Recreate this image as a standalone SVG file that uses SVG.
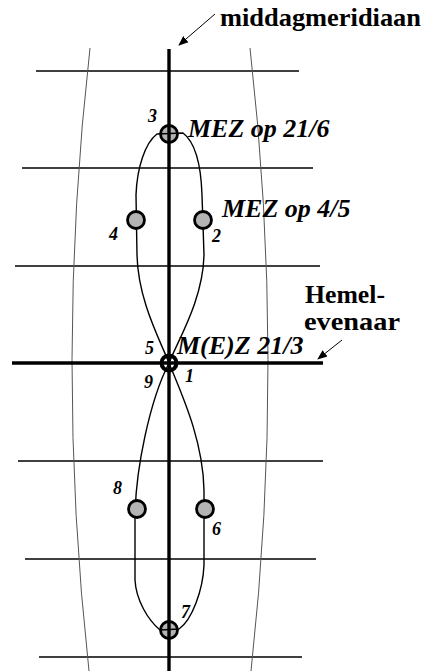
<svg xmlns="http://www.w3.org/2000/svg" width="426" height="671" viewBox="0 0 426 671">
<defs>
<marker id="ah" viewBox="0 0 10 10" refX="9" refY="5" markerWidth="10" markerHeight="10" markerUnits="userSpaceOnUse" orient="auto">
<path d="M0,1 L10,5 L0,9 Z" fill="#000"/>
</marker>
<style>
.grid{stroke:#000;stroke-width:1.4;fill:none}
.arc{stroke:#555;stroke-width:1;fill:none}
.thick{stroke:#000;stroke-width:3.4;fill:none}
.ana{stroke:#000;stroke-width:1.4;fill:none}
.dot{fill:#b4b4b4;stroke:#000;stroke-width:2.8}
.lbl{font-family:"Liberation Serif","Times New Roman",serif;font-weight:bold;font-style:italic;fill:#000}
.big{font-size:26px}
.num{font-size:18px}
.up{font-family:"Liberation Serif","Times New Roman",serif;font-weight:bold;font-size:26px;fill:#000}
.arr{stroke:#000;stroke-width:1;fill:none}
</style>
</defs>
<g id="grid">
<line class="grid" x1="36" y1="71" x2="299" y2="71"/>
<line class="grid" x1="22" y1="168" x2="313" y2="168"/>
<line class="grid" x1="15" y1="266" x2="320" y2="266"/>
<line class="grid" x1="18" y1="461" x2="323" y2="461"/>
<line class="grid" x1="25" y1="559" x2="316" y2="559"/>
<line class="grid" x1="39" y1="657" x2="302" y2="657"/>
<path class="arc" d="M90,48 Q54.5,359.5 89,671"/>
<path class="arc" d="M250,48 Q285.5,359.5 251,671"/>
</g>
<g id="p3"><circle class="dot" cx="169" cy="134" r="8.5"/></g>
<g id="p7"><circle class="dot" cx="169" cy="630" r="8.5"/></g>
<g id="connectors">
<path class="ana" d="M169,363 C160,340 138,300 137,255 L136,195 C137,168 145,143 157,134 L183,133 C195,142 201,165 202,195 L204,255 C203,300 178,340 169,363 Z"/>
<path class="ana" d="M169,363 C182,395 203,440 204,490 L204,565 C203,590 192,620 179,629 L160,630 C148,620 136,600 135,580 L135,520 C135,470 150,400 169,363 Z"/>
<line class="thick" x1="169" y1="49" x2="169" y2="671"/>
<line class="thick" x1="12" y1="363" x2="323" y2="363"/>
<line class="arr" x1="215" y1="14" x2="179" y2="45" marker-end="url(#ah)"/>
<line class="arr" x1="342" y1="340" x2="318" y2="359" marker-end="url(#ah)"/>
</g>
<g id="p4"><circle class="dot" cx="136" cy="220" r="8.5"/></g>
<g id="p2"><circle class="dot" cx="203" cy="220" r="8.5"/></g>
<g id="p8"><circle class="dot" cx="137" cy="509" r="8.5"/></g>
<g id="p6"><circle class="dot" cx="205" cy="509" r="8.5"/></g>
<g id="p1"><circle cx="169" cy="363" r="7.5" fill="none" stroke="#000" stroke-width="4"/></g>
<g id="labels">
<text class="up" x="220" y="26" textLength="201" lengthAdjust="spacingAndGlyphs">middagmeridiaan</text>
<text class="up" x="305" y="303" textLength="80" lengthAdjust="spacingAndGlyphs">Hemel-</text>
<text class="up" x="304" y="330" textLength="96" lengthAdjust="spacingAndGlyphs">evenaar</text>
<text class="lbl big" x="188" y="137">MEZ op 21/6</text>
<text class="lbl big" x="222" y="217">MEZ op 4/5</text>
<text class="lbl big" x="177" y="354">M(E)Z 21/3</text>
<text class="lbl num" x="148" y="122">3</text>
<text class="lbl num" x="109" y="240">4</text>
<text class="lbl num" x="212" y="242">2</text>
<text class="lbl num" x="145" y="354">5</text>
<text class="lbl num" x="144" y="388">9</text>
<text class="lbl num" x="185" y="382">1</text>
<text class="lbl num" x="113" y="494">8</text>
<text class="lbl num" x="212" y="535">6</text>
<text class="lbl num" x="181" y="618">7</text>
</g>
</svg>
